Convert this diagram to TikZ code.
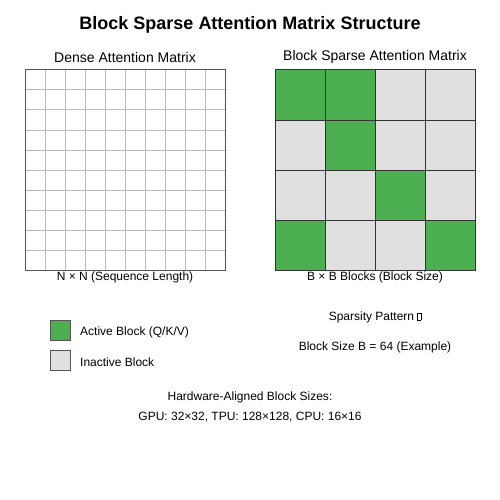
\documentclass[tikz,border=0pt]{standalone}
\usepackage{fontspec}
\setmainfont{Liberation Sans}
\definecolor{active block color}{HTML}{4CAF50}
\definecolor{inactive block color}{HTML}{E0E0E0}
\definecolor{grid line color}{HTML}{BBBBBB}
\definecolor{grid border color}{HTML}{555555}
\definecolor{block border color}{HTML}{333333}
\tikzset{
    x={1pt},
    y={-1pt},
    title label/.style={
        font={\fontsize{18}{21}\selectfont\bfseries},
        anchor=center,
    },
    matrix label/.style={
        font={\fontsize{14}{17}\selectfont},
        anchor=center,
    },
    note label/.style={
        font={\fontsize{12}{14}\selectfont},
        anchor=center,
        inner sep=0pt,
    },
    grid line/.style={
        draw=grid line color,
        line width={1pt},
    },
    grid border/.style={
        draw=grid border color,
        line width={1pt},
    },
    block/.style={
        fill={#1},
        draw=block border color,
        line width={1pt},
    },
    active block/.style={block=active block color},
    inactive block/.style={block=inactive block color},
    legend key/.style={
        fill={#1},
        draw=grid border color,
        line width={1pt},
    },
}

\begin{document}
\begin{tikzpicture}
\useasboundingbox[fill=white] (0,0) rectangle (500,500);
% titles
\node[title label] (title) at (250,25) {Block Sparse Attention Matrix Structure};
\node[matrix label] (dense title) at (125,57) {Dense Attention Matrix};
\node[matrix label] (sparse title) at (375,57) {Block Sparse Attention Matrix};
% dense matrix
\foreach \k in {45,65,...,205} {
    \path[grid line] (\k,70) -- (\k,270);
}
\foreach \k in {90,110,...,250} {
    \path[grid line] (25,\k) -- (225,\k);
}
\path[grid border] (25,70) rectangle (225,270);
% block sparse matrix
\path[active block] (275,70) rectangle ++(50,50);
\path[active block] (325,70) rectangle ++(50,50);
\path[inactive block] (375,70) rectangle ++(50,50);
\path[inactive block] (425,70) rectangle ++(50,50);
\path[inactive block] (275,120) rectangle ++(50,50);
\path[active block] (325,120) rectangle ++(50,50);
\path[inactive block] (375,120) rectangle ++(50,50);
\path[inactive block] (425,120) rectangle ++(50,50);
\path[inactive block] (275,170) rectangle ++(50,50);
\path[inactive block] (325,170) rectangle ++(50,50);
\path[active block] (375,170) rectangle ++(50,50);
\path[inactive block] (425,170) rectangle ++(50,50);
\path[active block] (275,220) rectangle ++(50,50);
\path[inactive block] (325,220) rectangle ++(50,50);
\path[inactive block] (375,220) rectangle ++(50,50);
\path[active block] (425,220) rectangle ++(50,50);
% axis notes
\node[note label] (dense size) at (125,277) {N × N (Sequence Length)};
\node[note label] (block size) at (375,277) {B × B Blocks (Block Size)};
% legend
\path[legend key=active block color] (50,320) rectangle (70,340);
\path[legend key=inactive block color] (50,350) rectangle (70,370);
\node[note label, anchor=west] (active key) at (80,332) {Active Block (Q/K/V)};
\node[note label, anchor=west] (inactive key) at (80,362) {Inactive Block};
% pattern notes
\node[note label] (pattern) at (375,317) {Sparsity Pattern {\setlength{\fboxsep}{0pt}\setlength{\fboxrule}{0.4pt}\fbox{\rule{0pt}{7pt}\hspace{3pt}}}};
\node[note label] (example) at (375,347) {Block Size B = 64 (Example)};
% hardware notes
\node[note label] (hardware) at (250,397) {Hardware-Aligned Block Sizes:};
\node[note label] (sizes) at (250,417) {GPU: 32×32, TPU: 128×128, CPU: 16×16};
\end{tikzpicture}
\end{document}
